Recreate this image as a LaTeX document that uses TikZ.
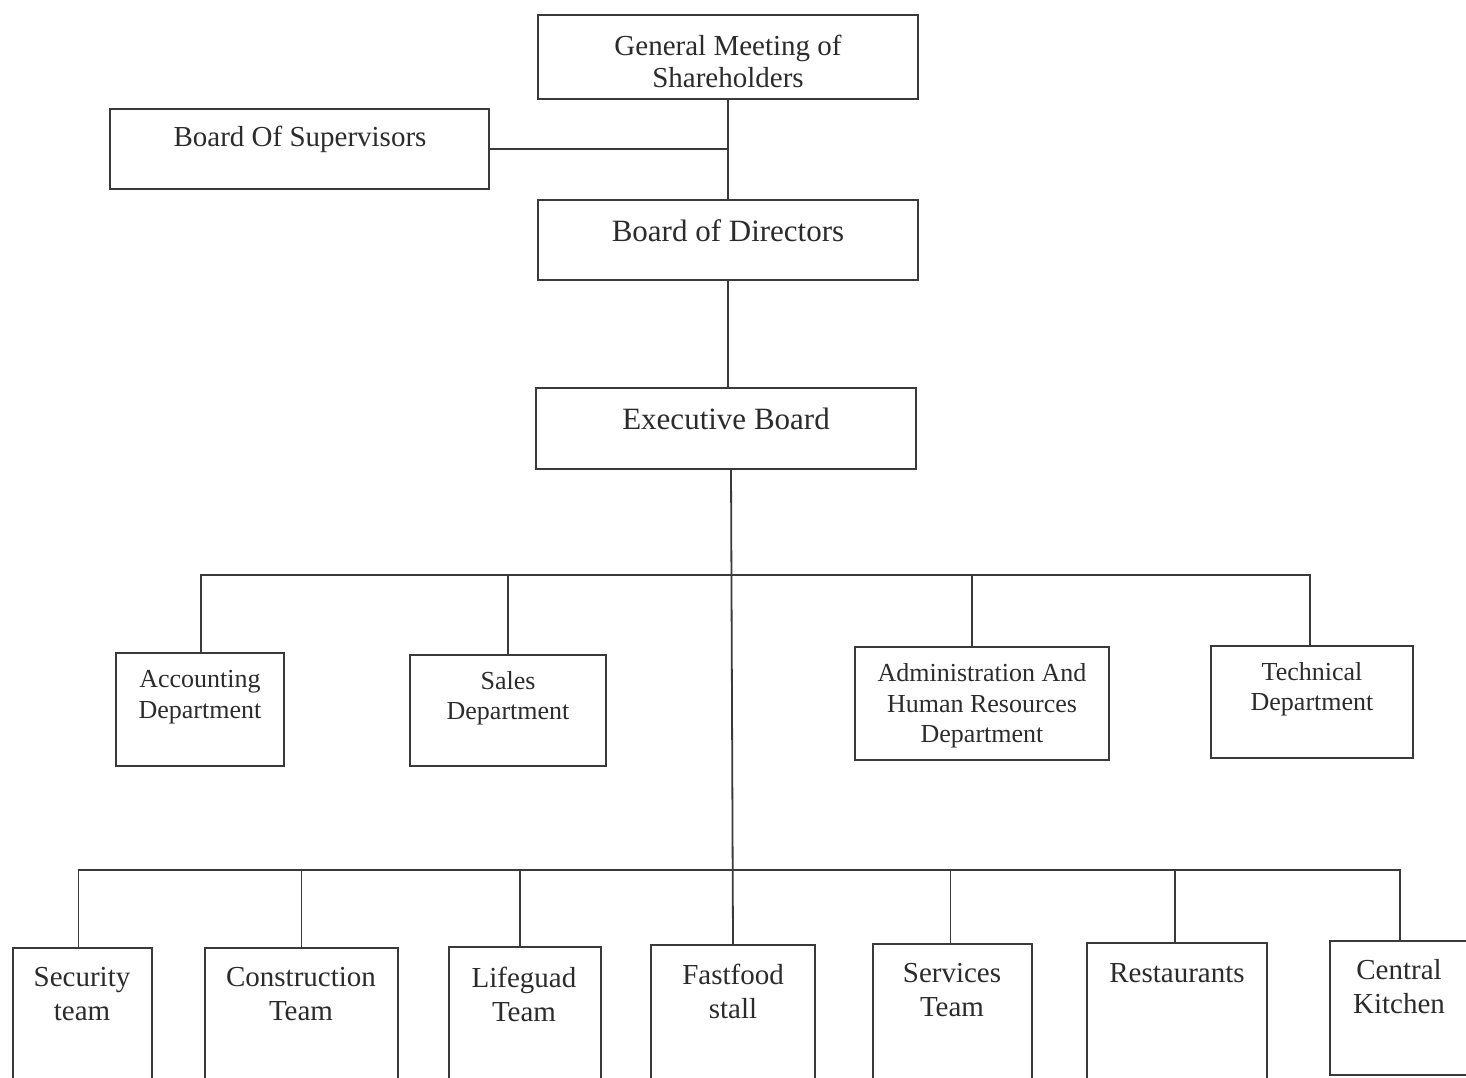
\documentclass[tikz,border=0pt]{standalone}
\usepackage{fontspec}
\setmainfont{Liberation Serif}
\usetikzlibrary{fit,calc}
\definecolor{ink}{HTML}{2B2B2B}
\definecolor{edge}{HTML}{3A3A3A}
\tikzset{
  boxrect/.style={draw=edge, line width=1.8pt, inner sep=0pt, rectangle},
  conn/.style={draw=edge, line width=1.8pt},
  lbl/.style={text=ink, align=center, inner sep=0pt},
  fa/.style={lbl, font=\fontsize{29}{32}\selectfont},
  fb/.style={lbl, font=\fontsize{31}{34}\selectfont},
  fd/.style={lbl, font=\fontsize{26}{30.5}\selectfont},
  fe/.style={lbl, font=\fontsize{29}{34}\selectfont},
}
\begin{document}
\begin{tikzpicture}[x=1pt,y=-1pt]
\useasboundingbox (0,0) rectangle (1466,1077);
\clip (0,0) rectangle (1466,1077);
% top boxes
\node[boxrect, fit={(538,15) (918,99)}] (gm) {};
\node[fa] (gmt) at (728,61) {General Meeting of\\Shareholders};
\node[boxrect, fit={(110,109) (489,189)}] (bos) {};
\node[fa] (bost) at (300,139) {Board Of Supervisors};
\node[boxrect, fit={(538,200) (918,280)}] (bod) {};
\node[fb] (bodt) at (728,231) {Board of Directors};
\node[boxrect, fit={(536,388) (916,469)}] (eb) {};
\node[fb] (ebt) at (726,419) {Executive Board};
% departments
\node[boxrect, fit={(116,653) (284,766)}] (acc) {};
\node[fd] (acct) at (200,697) {Accounting\\Department};
\node[boxrect, fit={(410,655) (606,766)}] (sal) {};
\node[fd] (salt) at (508,698) {Sales\\Department};
\node[boxrect, fit={(855,647) (1109,760)}] (adm) {};
\node[fd] (admt) at (982,706) {Administration And\\Human Resources\\Department};
\node[boxrect, fit={(1211,646) (1413,758)}] (tec) {};
\node[fd] (tect) at (1312,689) {Technical\\Department};
% teams
\node[boxrect, fit={(13,948) (152,1095)}] (sec) {};
\node[fe] (sect) at (82,994) {Security\\team};
\node[boxrect, fit={(205,948) (398,1095)}] (con) {};
\node[fe] (cont) at (301,994) {Construction\\Team};
\node[boxrect, fit={(449,947) (601,1095)}] (lif) {};
\node[fe] (lift) at (524,994) {Lifeguad\\Team};
\node[boxrect, fit={(651,945) (815,1095)}] (fas) {};
\node[fe] (fast) at (733,991) {Fastfood\\stall};
\node[boxrect, fit={(873,944) (1032,1095)}] (ser) {};
\node[fe] (sert) at (952,990) {Services\\Team};
\node[boxrect, fit={(1087,943) (1267,1095)}] (res) {};
\node[fe] (rest) at (1177,973) {Restaurants};
\node[boxrect, fit={(1330,941) (1480,1075)}] (cen) {};
\node[fe] (cent) at (1399,987) {Central\\Kitchen};
% bus coordinates
\coordinate (busA) at (0,575);
\coordinate (busB) at (0,870);
% connectors
\draw[conn] (gm.south) -- (bod.north);
\draw[conn] (bos.east) -- (bos.east -| gm.south);
\draw[conn] (bod.south) -- (bod.south |- eb.north);
\draw[conn] ($(eb.south)+(5,0)$) -- ($(fas.north)+(0,0)$);
% department bus
\draw[conn] ($(acc.north)+(1,0)$) -- ($(acc.north |- busA)+(1,0)$) -- ($(tec.north |- busA)+(-2,0)$) -- ($(tec.north)+(-2,0)$);
\draw[conn] (sal.north) -- (sal.north |- busA);
\draw[conn] ($(adm.north)+(-10,0)$) -- ($(adm.north |- busA)+(-10,0)$);
% team bus
\draw[conn] ($(sec.north)+(-4,0)$) -- ($(sec.north |- busB)+(-4,0)$) -- ($(cen.north |- busB)+(-5,0)$) -- ($(cen.north)+(-5,0)$);
\draw[conn] (con.north) -- (con.north |- busB);
\draw[conn] ($(lif.north)+(-5,0)$) -- ($(lif.north |- busB)+(-5,0)$);
\draw[conn] ($(ser.north)+(-2,0)$) -- ($(ser.north |- busB)+(-2,0)$);
\draw[conn] ($(res.north)+(-2,0)$) -- ($(res.north |- busB)+(-2,0)$);
\end{tikzpicture}
\end{document}
